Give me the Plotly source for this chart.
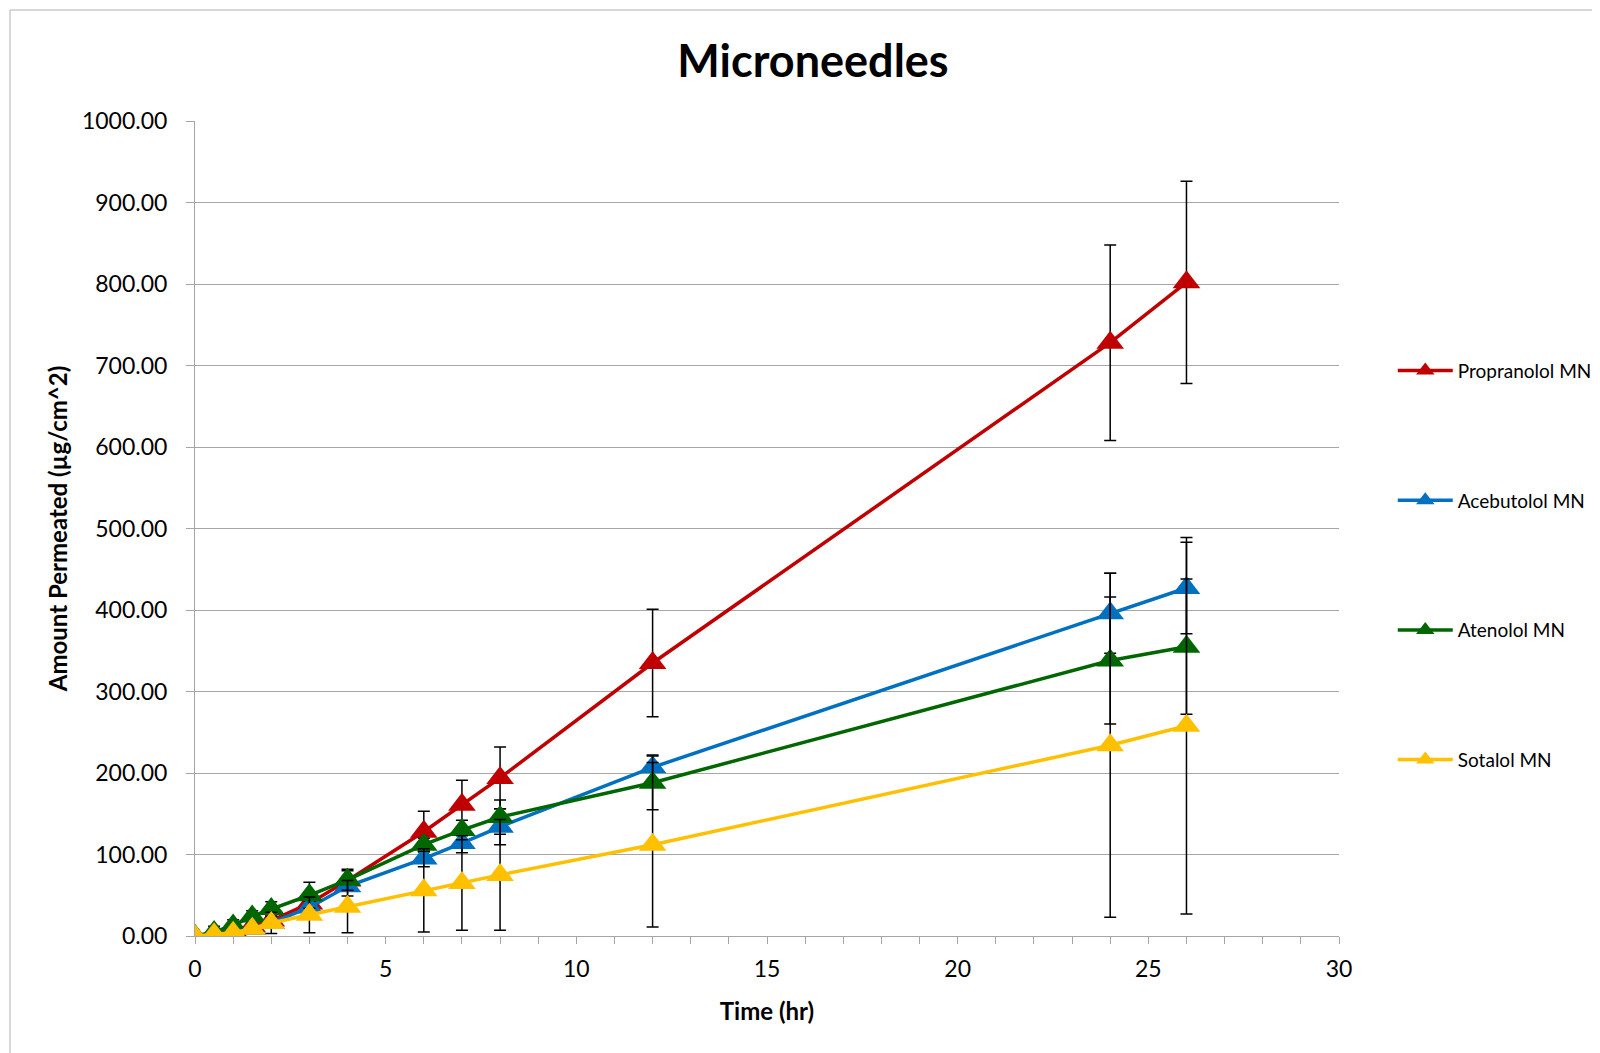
import plotly.graph_objects as go

time_hr = [0, 0.5, 1, 1.5, 2, 3, 4, 6, 7, 8, 12, 24, 26]

series_names = ["Propranolol MN", "Acebutolol MN", "Atenolol MN", "Sotalol MN"]
propranolol = [0, 3, 7, 12, 19, 40, 68, 128, 161, 194, 335, 728, 802]
propranolol_err = [0, 2, 3, 4, 6, 10, 12, 25, 30, 38, 66, 120, 124]
acebutolol = [0, 1, 4, 9, 16, 35, 61, 95, 114, 134, 207, 396, 427]
acebutolol_err = [0, 1, 2, 3, 5, 8, 12, 10, 12, 22, 15, 49, 56]
atenolol = [0, 5, 13, 24, 33, 50, 69, 112, 130, 146, 188, 338, 355]
atenolol_err = [0, 7, 7, 7, 9, 16, 13, 8, 12, 21, 33, 78, 83]
sotalol = [0, 2, 4, 9, 16, 26, 36, 56, 65, 75, 112, 234, 258]
sotalol_err = [0, 2, 3, 5, 13, 22, 32, 51, 58, 68, 101, 211, 231]

colors = ["#C00000", "#0070C0", "#006600", "#FFC000"]
values = [propranolol, acebutolol, atenolol, sotalol]
errors = [propranolol_err, acebutolol_err, atenolol_err, sotalol_err]

FONT = "Lato"

fig = go.Figure()
for i, (name, vals, errs, col) in enumerate(zip(series_names, values, errors, colors)):
    fig.add_trace(go.Scatter(
        x=time_hr, y=vals, name=name, mode="lines+markers",
        legendgroup=f"g{i}",
        line=dict(color=col, width=3.5),
        marker=dict(symbol="triangle-up", size=24, color=col),
        error_y=dict(type="data", array=errs, visible=True, color="black",
                     thickness=1.5, width=6),
    ))

# page body has an 8px margin, so the figure is placed at (8, 8)
W, H = 1592, 1045
fig.update_layout(
    width=W, height=H,
    margin=dict(l=187, r=261, t=113, b=117, autoexpand=False),
    paper_bgcolor="white", plot_bgcolor="white",
    font=dict(family=FONT, color="black"),
    title=dict(text="<b>Microneedles</b>", x=(813 - 8) / W, xanchor="center",
               y=1 - (61 - 8) / H, yanchor="middle",
               font=dict(size=45, family=FONT, color="black")),
    legend=dict(x=1.047, xanchor="left", y=0.717, yanchor="top",
                tracegroupgap=102, itemwidth=55,
                font=dict(size=19, family=FONT, color="black"),
                bgcolor="rgba(0,0,0,0)"),
    showlegend=True,
)

fig.update_xaxes(
    range=[0, 30], dtick=5, tick0=0,
    showgrid=False, zeroline=False,
    showline=True, linecolor="#a6a6a6", linewidth=1,
    ticks="outside", ticklen=7, tickcolor="#a6a6a6",
    minor=dict(dtick=1, ticks="outside", ticklen=7, tickcolor="#a6a6a6"),
    tickfont=dict(size=23, family=FONT), ticklabelstandoff=5,
    title=dict(text="<b>Time (hr)</b>", font=dict(size=24, family=FONT), standoff=22),
)
fig.update_yaxes(
    range=[0, 1000], dtick=100, tickformat=".2f",
    showgrid=True, gridcolor="#a6a6a6", gridwidth=1, zeroline=False,
    showline=True, linecolor="#a6a6a6", linewidth=1,
    ticks="outside", ticklen=8, tickcolor="#a6a6a6",
    tickfont=dict(size=23, family=FONT), ticklabelstandoff=14,
    title=dict(text="<b>Amount Permeated (µg/cm^2)</b>", font=dict(size=24, family=FONT), standoff=7),
)

# outer chart border
fig.add_shape(type="rect", xref="paper", yref="paper",
              x0=(10 - 195) / 1144, x1=1.4, y0=-0.3, y1=(936 - 10) / 815,
              line=dict(color="#b0b0b0", width=1), fillcolor="rgba(0,0,0,0)", layer="below")

fig.write_html("out.html")
